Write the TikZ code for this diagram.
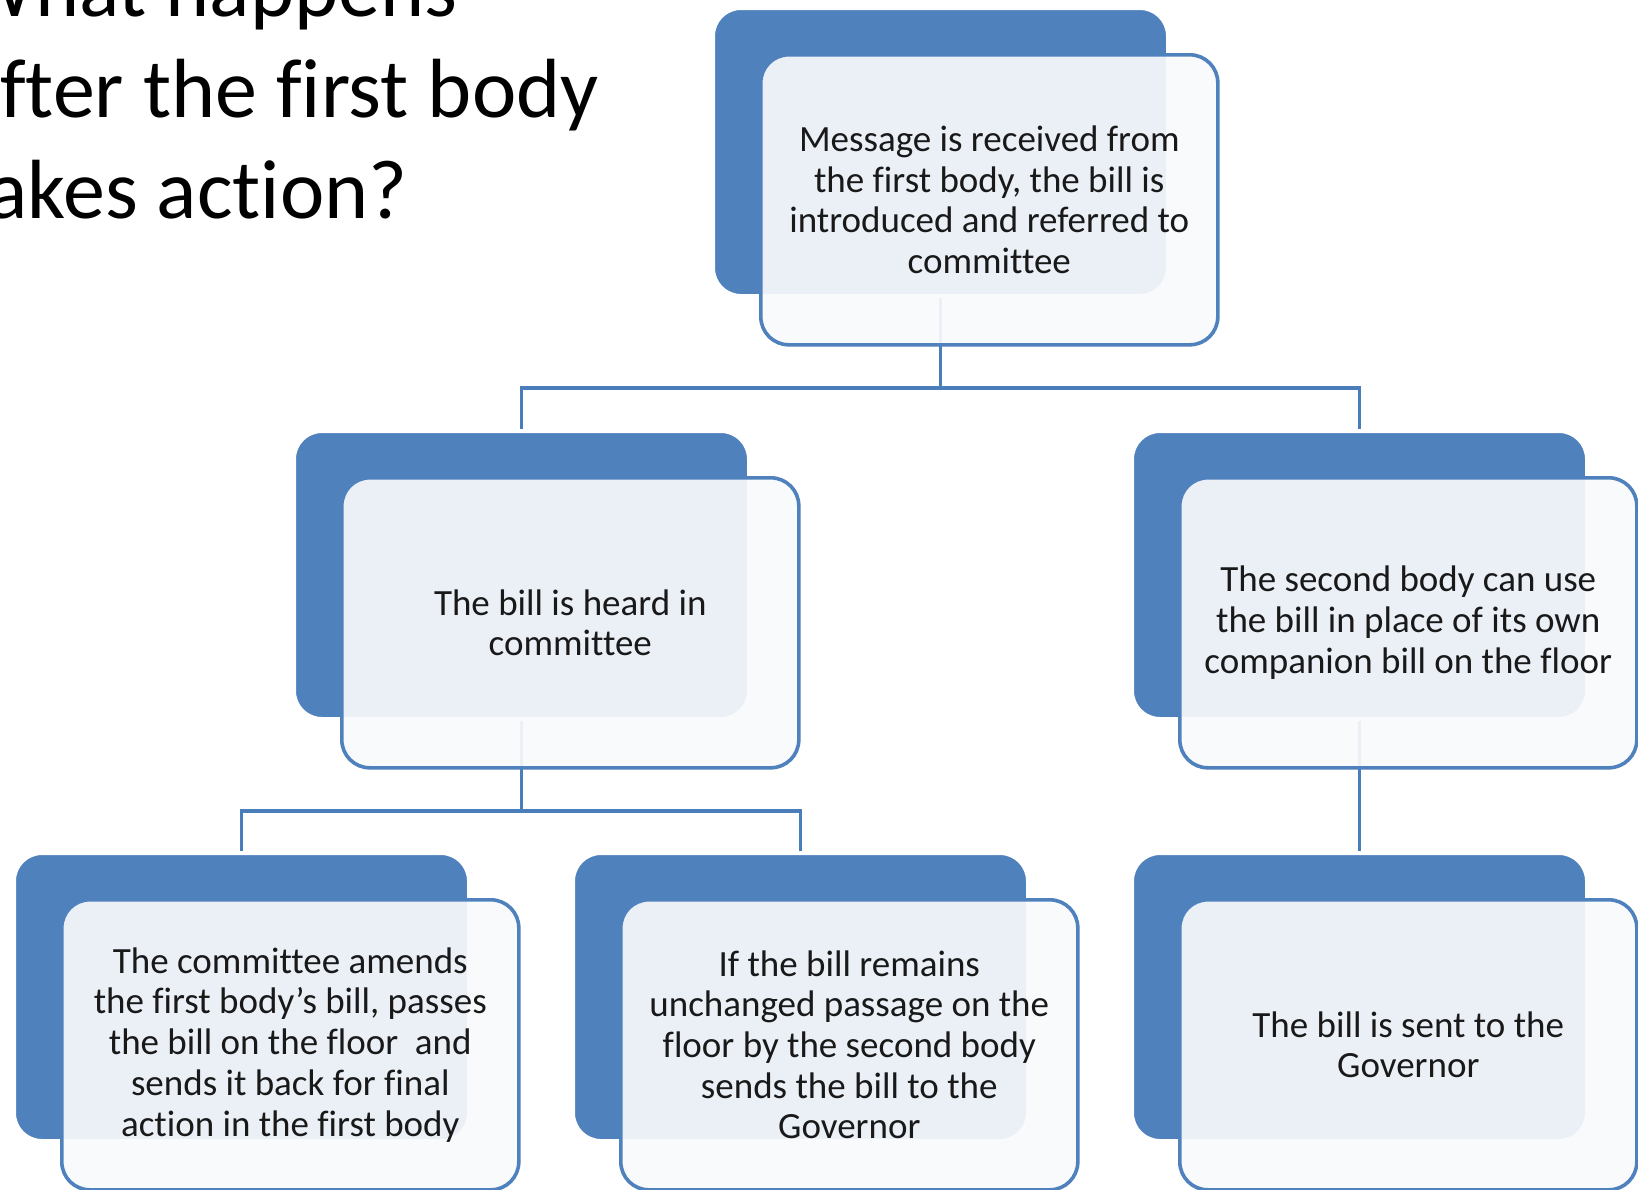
\documentclass[tikz,border=0pt]{standalone}
\usepackage{fontspec}
\setmainfont{Carlito}[Ligatures={NoCommon}]
\definecolor{ofblue}{HTML}{4F81BD}
\definecolor{frontfill}{HTML}{F9FAFC}
\definecolor{connblue}{HTML}{4A7EBB}
\pgfdeclarelayer{bg}
\pgfsetlayers{bg,main}
\tikzset{
  backbox/.style={rectangle, rounded corners=14pt, fill=ofblue, draw=white, line width=2pt,
    minimum width=227.5pt, minimum height=144pt, inner sep=0pt, anchor=north west},
  frontbox/.style={rectangle, rounded corners=14pt, fill=frontfill, fill opacity=0.92, text opacity=1,
    draw=ofblue, line width=1.8pt, minimum width=228.5pt, minimum height=145pt, inner sep=0pt,
    anchor=north west, align=center, font=\fontsize{18.5pt}{20.35pt}\selectfont, text=black!90},
  conn/.style={draw=connblue, line width=1.8pt},
  titletext/.style={anchor=base west, inner sep=0pt, font=\fontsize{42pt}{50.5pt}\selectfont, text=black},
}
\begin{document}
\begin{tikzpicture}[x=0.5pt,y=-0.5pt]
\useasboundingbox (0,0) rectangle (1638,1189);
\clip (0,0) rectangle (1638,1189);

% title
\node[titletext] (t1) at (-40,16) {What happens};
\node[titletext] (t2) at (-40,117) {after the first body};
\node[titletext] (t3) at (-40,218) {takes action?};

% back boxes
\node[backbox] (topB) at (711,6) {};
\node[backbox] (mlB) at (292,429) {};
\node[backbox] (mrB) at (1130,429) {};
\node[backbox] (blB) at (12,851) {};
\node[backbox] (bmB) at (571,851) {};
\node[backbox] (brB) at (1130,851) {};

% front boxes
\node[frontbox] (topF) at (759,53) {Message is received from\\the first body, the bill is\\introduced and referred to\\committee};
\node[frontbox] (mlF) at (340,476) {The bill is heard in\\committee};
\node[frontbox] (mrF) at (1178,476) {The second body can use\\the bill in place of its own\\companion bill on the floor};
\node[frontbox] (blF) at (60,898) {The committee amends\\the first body’s bill, passes\\the bill on the floor\ \ and\\sends it back for final\\action in the first body};
\node[frontbox] (bmF) at (619,898) {If the bill remains\\unchanged passage on the\\floor by the second body\\sends the bill to the\\Governor};
\node[frontbox] (brF) at (1178,898) {The bill is sent to the\\Governor};

% background and connectors
\begin{pgfonlayer}{bg}
\fill[white] (0,0) rectangle (1638,1189);
\draw[conn] (topB.south) -- ++(0,90) -| (mlB.north);
\draw[conn] (topB.south) -- ++(0,90) -| (mrB.north);
\draw[conn] (mlB.south) -- ++(0,90) -| (blB.north);
\draw[conn] (mlB.south) -- ++(0,90) -| (bmB.north);
\draw[conn] (mrB.south) -- (brB.north);
\end{pgfonlayer}
\end{tikzpicture}
\end{document}
